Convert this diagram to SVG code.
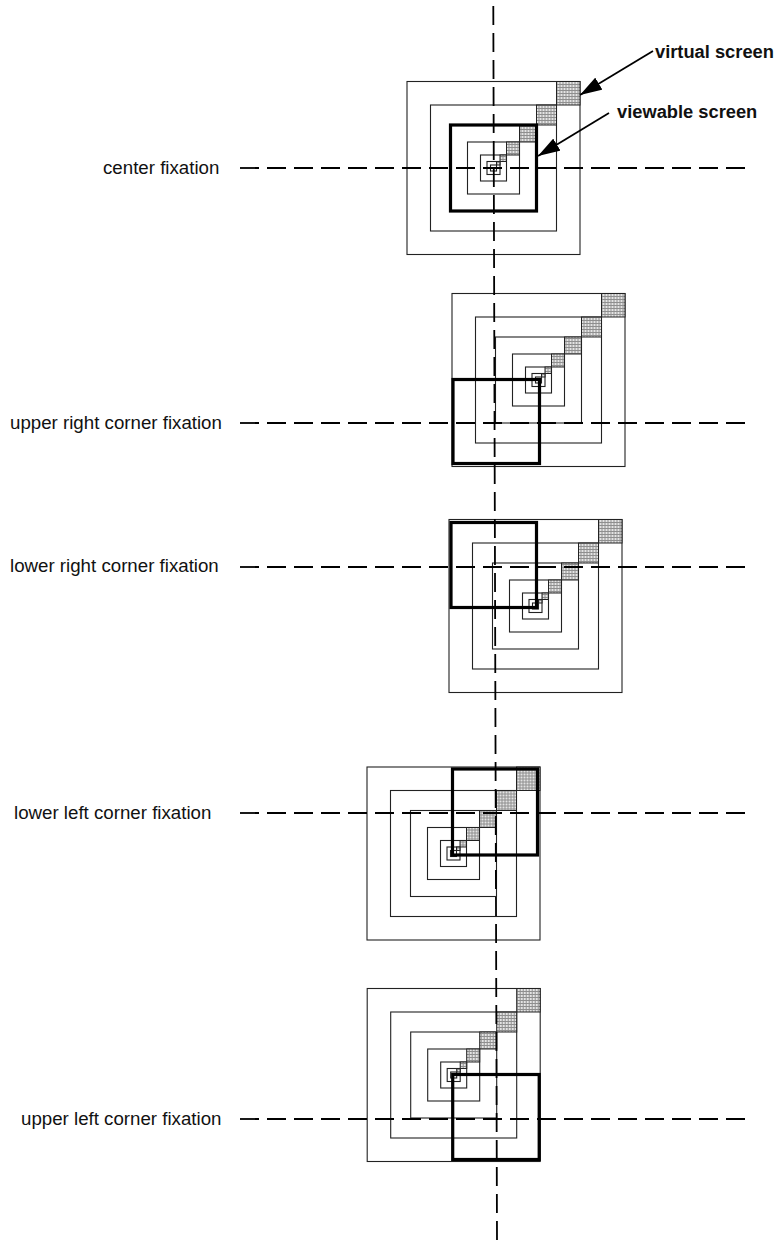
<svg xmlns="http://www.w3.org/2000/svg" xmlns:xlink="http://www.w3.org/1999/xlink" width="781" height="1242" viewBox="0 0 781 1242">
<style>
.lbl{font-family:"Liberation Sans",Arial,sans-serif;font-size:18.7px;fill:#111}
.blbl{font-family:"Liberation Sans",Arial,sans-serif;font-size:18.3px;font-weight:bold;fill:#111}
.thin{fill:none;stroke:#222;stroke-width:1.1}
.sh{fill:url(#mesh);stroke:#222;stroke-width:1}
.thick{fill:none;stroke:#000;stroke-width:3.2}
.dash{fill:none;stroke:#000;stroke-width:1.8;stroke-dasharray:19 8}
.arr{fill:none;stroke:#000;stroke-width:1.8}
</style>
<defs>
<pattern id="mesh" width="3" height="3" patternUnits="userSpaceOnUse">
<rect width="3" height="3" fill="#e4e4e4"/>
<path d="M0 0.5H3M0.5 0V3" stroke="#8f8f8f" stroke-width="1"/>
</pattern>
<marker id="ah" markerUnits="userSpaceOnUse" markerWidth="24" markerHeight="14" refX="22" refY="7" orient="auto">
<path d="M0,0 L22,7 L0,14 z" fill="#000"/>
</marker>
<g id="conc">
<rect class="thin" x="-86.5" y="-86.5" width="173" height="173"/>
<rect class="thin" x="-63" y="-63" width="126" height="126"/>
<rect class="thin" x="-43" y="-43" width="86" height="86"/>
<rect class="thin" x="-26" y="-26" width="52" height="52"/>
<rect class="thin" x="-13" y="-13" width="26" height="26"/>
<rect class="thin" x="-6.5" y="-6.5" width="13" height="13"/>
<rect class="thin" x="-3" y="-3" width="6" height="6"/>
<rect class="sh" x="63" y="-86.5" width="23.5" height="23.5"/>
<rect class="sh" x="43" y="-63" width="20" height="20"/>
<rect class="sh" x="26" y="-43" width="17" height="17"/>
<rect class="sh" x="13" y="-26" width="13" height="13"/>
<rect class="sh" x="6.5" y="-13" width="6.5" height="6.5"/>
<rect class="sh" x="3" y="-6.5" width="3.5" height="3.5"/>
</g>
</defs>
<rect width="781" height="1242" fill="#fff"/>

<g id="center-fixation">
<use xlink:href="#conc" href="#conc" transform="translate(493.5,168)"/>
<rect class="thick" x="450.5" y="125" width="86" height="86"/>
<text class="lbl" x="103" y="173.5">center fixation</text>
</g>

<g id="upper-right-corner-fixation">
<use xlink:href="#conc" href="#conc" transform="translate(538.5,380)"/>
<rect class="thick" x="453" y="379.5" width="86.5" height="84"/>
<text class="lbl" x="10" y="428.5">upper right corner fixation</text>
</g>

<g id="lower-right-corner-fixation">
<use xlink:href="#conc" href="#conc" transform="translate(535.5,606)"/>
<rect class="thick" x="451" y="522.5" width="85.5" height="85"/>
<text class="lbl" x="10" y="572">lower right corner fixation</text>
</g>

<g id="lower-left-corner-fixation">
<use xlink:href="#conc" href="#conc" transform="translate(453.5,853.5)"/>
<rect class="thick" x="452.5" y="769" width="85" height="86"/>
<text class="lbl" x="14" y="818.5">lower left corner fixation</text>
</g>

<g id="upper-left-corner-fixation">
<use xlink:href="#conc" href="#conc" transform="translate(453.7,1075)"/>
<rect class="thick" x="452.7" y="1074.5" width="86.5" height="85"/>
<text class="lbl" x="21" y="1124.5">upper left corner fixation</text>
</g>

<g id="labels">
<text class="blbl" x="655" y="58">virtual screen</text>
<text class="blbl" x="617" y="118">viewable screen</text>
</g>

<g id="connectors">
<line class="dash" x1="493.3" y1="6" x2="497" y2="1240"/>
<line class="dash" x1="240" y1="168" x2="752" y2="168"/>
<line class="dash" x1="240" y1="423" x2="752" y2="423"/>
<line class="dash" x1="240" y1="567" x2="752" y2="567"/>
<line class="dash" x1="240" y1="813" x2="752" y2="813"/>
<line class="dash" x1="240" y1="1119" x2="752" y2="1119"/>
<line class="arr" x1="653" y1="51" x2="580" y2="95" marker-end="url(#ah)"/>
<line class="arr" x1="609" y1="113" x2="538" y2="156" marker-end="url(#ah)"/>
</g>
</svg>
